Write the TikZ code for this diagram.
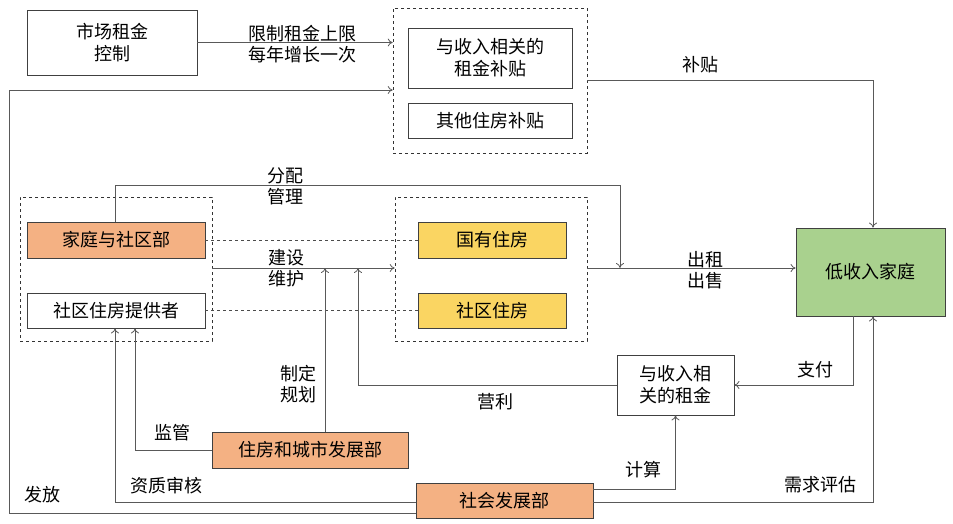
\documentclass[tikz,border=0pt]{standalone}
\usepackage{fontspec}
\usetikzlibrary{arrows.meta}
\setmainfont{Noto Sans CJK SC}
\begin{document}
\begin{tikzpicture}[x=1pt,y=-1pt,
  bx/.style={draw=black!75,line width=0.8pt,minimum height=36pt,inner sep=0pt,font=\fontsize{18}{22}\selectfont},
  grp/.style={draw=black!80,dashed,line width=0.6pt},
  ar/.style={draw=black!65,line width=0.8pt,-{To[length=5pt,width=8pt]}},
  ln/.style={draw=black!65,line width=0.8pt},
  dl/.style={draw=black!70,dashed,line width=0.6pt},
  lb/.style={font=\fontsize{18}{21}\selectfont,align=center,inner sep=0pt}]
\useasboundingbox (0,0) rectangle (953,523);
\definecolor{og}{HTML}{F4B183}\definecolor{yl}{HTML}{FAD562}\definecolor{gr}{HTML}{A9D18E}
% top
\node[bx,minimum width=170pt,minimum height=65pt,align=center] (mkt) at (112,42.5) {市场租金\\控制};
\node[grp,minimum width=194pt,minimum height=145pt,inner sep=0pt] (tg) at (490,80.5) {};
\node[bx,minimum width=164pt,minimum height=60pt,align=center] (sub1) at (490,58) {与收入相关的\\租金补贴};
\node[bx,minimum width=164pt,minimum height=35pt] (sub2) at (490,120.5) {其他住房补贴};
% middle
\node[grp,minimum width=192pt,minimum height=144pt,inner sep=0pt] (lg) at (116,269) {};
\node[grp,minimum width=192pt,minimum height=144pt,inner sep=0pt] (mg) at (491,269) {};
\node[bx,fill=og,minimum width=178pt] (fam) at (116,240) {家庭与社区部};
\node[bx,minimum width=178pt,minimum height=35pt] (prov) at (116,310.5) {社区住房提供者};
\node[bx,fill=yl,minimum width=148pt] (gov) at (492,240) {国有住房};
\node[bx,fill=yl,minimum width=148pt,minimum height=35pt] (com) at (492,310.5) {社区住房};
\node[bx,fill=gr,minimum width=149pt,minimum height=88pt] (low) at (870.5,272) {低收入家庭};
% lower
\node[bx,minimum width=117pt,minimum height=60pt,align=center] (rent) at (675.5,385) {与收入相\\关的租金};
\node[bx,fill=og,minimum width=196pt] (hud) at (310,450) {住房和城市发展部};
\node[bx,fill=og,minimum width=177pt,minimum height=35pt] (sdd) at (504.5,500.5) {社会发展部};
\coordinate (c1) at (620,268);
\coordinate (c2) at (358,268);
\coordinate (c3) at (325,268);
% dashed links
\draw[dl] (fam.east) -- (gov.west);
\draw[dl] (prov.east) -- (com.west);
% connectors
\draw[ar] (mkt.east) -- (tg.west |- mkt.east);
\node[lb] at (302,44) {限制租金上限\\每年增长一次};
\draw[ar] (tg.east |- 0,80) -| (low.north -| 873,0);
\node[lb] at (700,65) {补贴};
\draw[ar] (fam.north -| 115,0) |- (620,185) -- (c1);
\node[lb] at (285,186) {分配\\管理};
\draw[ar] (lg.east |- c1) -- (mg.west |- c1);
\node[lb] at (286,268) {建设\\维护};
\draw[ar] (mg.east |- c1) -- (low.west |- c1);
\node[lb] at (705,270) {出租\\出售};
\draw[ar] (low.south -| 853,0) |- (rent.east);
\node[lb] at (815,370) {支付};
\draw[ar] (rent.west) -| (c2);
\node[lb] at (495,402) {营利};
\draw[ar] (hud.north -| c3) -- (c3);
\node[lb] at (298,384) {制定\\规划};
\draw[ar] (hud.west) -| (prov.south -| 135,0);
\node[lb] at (172,433) {监管};
\draw[ar] (sdd.west |- 0,502) -| (prov.south -| 115,0);
\node[lb] at (166,486) {资质审核};
\draw[ar] (sdd.west |- 0,513) -| (9,90) -- (tg.west |- 0,90);
\node[lb] at (42,495) {发放};
\draw[ar] (sdd.east |- 0,489) -| (rent.south);
\node[lb] at (643,470) {计算};
\draw[ar] (sdd.east |- 0,502) -| (low.south -| 873,0);
\node[lb] at (820,485) {需求评估};
\end{tikzpicture}
\end{document}
